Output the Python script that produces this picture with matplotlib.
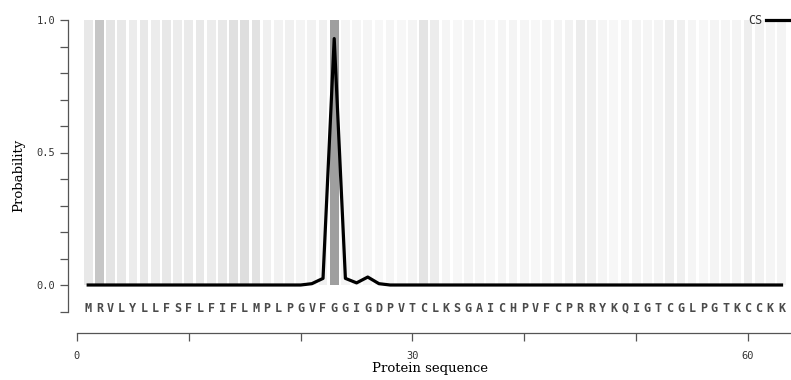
import numpy as np
import matplotlib
matplotlib.use("Agg")
import matplotlib.pyplot as plt
from matplotlib.ticker import FixedLocator

sequence = list("MRVLYLLFSFLFIFLMPLPGVFGGIGDPVTCLKSGAICHPVFCPRRYKQIGTCGLPGTKCCKK")
positions = np.arange(1, len(sequence) + 1)

# cleavage-site probability per residue
cs_prob = [0.0, 0.0, 0.0, 0.0, 0.0, 0.0, 0.0, 0.0, 0.0, 0.0,
           0.0, 0.0, 0.0, 0.0, 0.0, 0.0, 0.0, 0.0, 0.0, 0.0,
           0.005, 0.025, 0.93, 0.025, 0.008, 0.03, 0.005, 0.0, 0.0, 0.0,
           0.0, 0.0, 0.0, 0.0, 0.0, 0.0, 0.0, 0.0, 0.0, 0.0,
           0.0, 0.0, 0.0, 0.0, 0.0, 0.0, 0.0, 0.0, 0.0, 0.0,
           0.0, 0.0, 0.0, 0.0, 0.0, 0.0, 0.0, 0.0, 0.0, 0.0,
           0.0, 0.0, 0.0]

# per-residue attention shading (0 = none, 1 = strongest)
attention = [0.12, 0.30, 0.14, 0.12, 0.10, 0.12, 0.10, 0.12, 0.10, 0.11,
             0.12, 0.10, 0.12, 0.16, 0.17, 0.15, 0.08, 0.07, 0.08, 0.06,
             0.07, 0.08, 0.50, 0.06, 0.05, 0.05, 0.04, 0.05, 0.04, 0.06,
             0.14, 0.10, 0.05, 0.04, 0.06, 0.05, 0.04, 0.05, 0.06, 0.05,
             0.04, 0.05, 0.06, 0.07, 0.10, 0.08, 0.05, 0.04, 0.05, 0.06,
             0.05, 0.06, 0.09, 0.08, 0.05, 0.04, 0.06, 0.05, 0.06, 0.09,
             0.07, 0.05, 0.06]

W, H = 791, 380
fig = plt.figure(figsize=(W / 100, H / 100), dpi=100)

# axes box in pixels
left_px, right_px, top_px, bottom_px = 68, 791, 18, 333
ax = fig.add_axes([left_px / W, (H - bottom_px) / H,
                   (right_px - left_px) / W, (bottom_px - top_px) / H])

px_per_res = 11.183
px_per_unit = 265.0
x0_px, y0_px = 77, 285
ax.set_xlim((left_px - x0_px) / px_per_res, (right_px - x0_px) / px_per_res)
ax.set_ylim((y0_px - bottom_px) / px_per_unit, (y0_px - top_px) / px_per_unit)

# shaded background bands
for p, a in zip(positions, attention):
    g = 1.0 - a * 0.75
    ax.bar(p, 1.0, width=0.78, bottom=0.0, color=(g, g, g), linewidth=0, zorder=1)

# probability curve
ax.plot(positions, cs_prob, color="black", lw=2.3, zorder=3, solid_joinstyle="round")

# residue letters below the curve
for p, aa in zip(positions, sequence):
    ax.text(p, -0.087, aa, ha="center", va="center", fontsize=8.5,
            family="DejaVu Sans Mono", fontweight="bold", color="#4a4a4a", zorder=4)

# legend entry
ax.text(61.3, 1.0, "CS", ha="right", va="center", fontsize=8.5,
        family="DejaVu Sans Mono", color="#333333", zorder=5)
ax.plot([61.6, 64.5], [1.0, 1.0], color="black", lw=2.3, zorder=5, clip_on=False)

# R-style spines
for s in ("top", "right"):
    ax.spines[s].set_visible(False)
ax.spines["left"].set_bounds(-0.1, 1.0)
ax.spines["bottom"].set_bounds(0, 64)
for s in ("left", "bottom"):
    ax.spines[s].set_color("#555555")
    ax.spines[s].set_linewidth(0.9)

ax.yaxis.set_major_locator(FixedLocator([0.0, 0.5, 1.0]))
ax.yaxis.set_minor_locator(FixedLocator([-0.1, 0.1, 0.2, 0.3, 0.4, 0.6, 0.7, 0.8, 0.9]))
ax.set_yticklabels(["0.0", "0.5", "1.0"], family="DejaVu Sans Mono", fontsize=7.5,
                   color="#333333")
ax.xaxis.set_major_locator(FixedLocator([0, 30, 60]))
ax.xaxis.set_minor_locator(FixedLocator([10, 20, 40, 50]))
ax.set_xticklabels(["0", "30", "60"], family="DejaVu Sans Mono", fontsize=7.5,
                   color="#333333")
ax.tick_params(which="both", direction="out", length=6, width=0.9, color="#555555")
ax.tick_params(axis="x", which="both", pad=7)
ax.tick_params(axis="y", which="both", pad=3)

ax.set_ylabel("Probability", family="DejaVu Serif", fontsize=9.5, labelpad=8)
ax.set_xlabel("Protein sequence", family="DejaVu Serif", fontsize=9.5, labelpad=1)
ax.patch.set_alpha(0)

fig.savefig("out.png", dpi=100)
